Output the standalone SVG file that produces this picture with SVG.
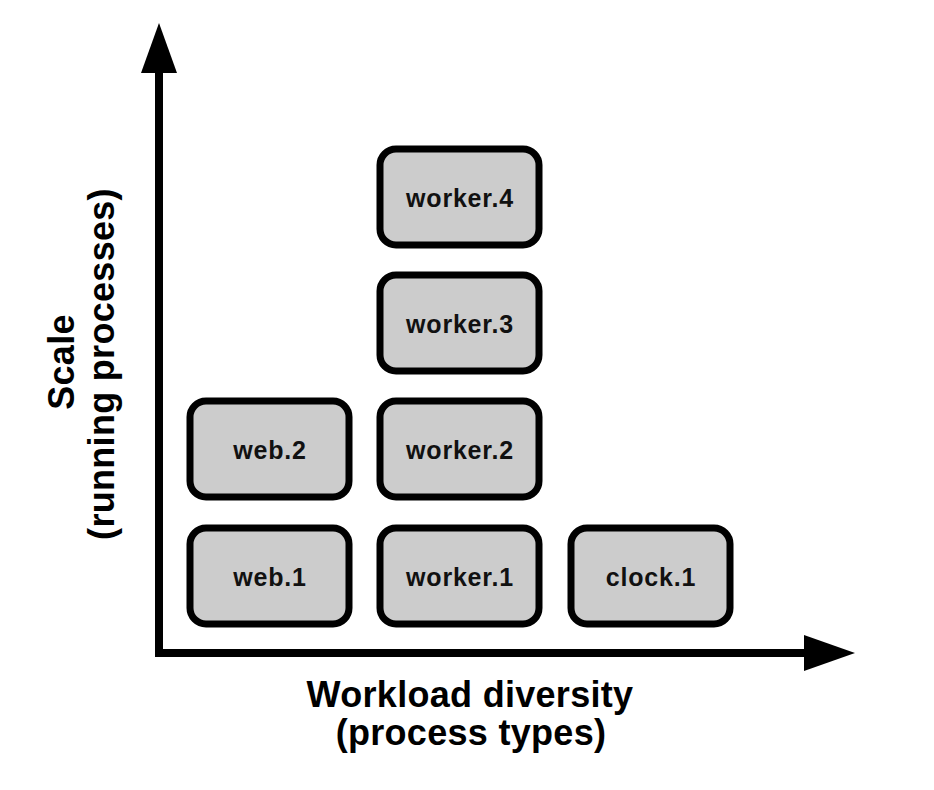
<svg xmlns="http://www.w3.org/2000/svg" width="934" height="790" viewBox="0 0 934 790">
<style>
.box{fill:#cccccc;stroke:#000;stroke-width:7}
.lbl{font-family:"Liberation Sans",Arial,sans-serif;font-weight:bold;font-size:25px;letter-spacing:0.8px;fill:#111;text-anchor:middle}
.axl{font-family:"Liberation Sans",Arial,sans-serif;font-weight:bold;font-size:36px;letter-spacing:0.3px;fill:#000;text-anchor:middle}
</style>
<rect width="934" height="790" fill="#fff"/>
<g id="connectors">
<path d="M159,72 V653 H806" fill="none" stroke="#000" stroke-width="8" stroke-linejoin="miter"/>
<polygon points="159,23 141,73 177,73" fill="#000"/>
<polygon points="855,653 804,635 804,671" fill="#000"/>
</g>
<g id="web1"><rect class="box" x="190" y="528" width="159" height="96" rx="16"/><text class="lbl" x="270" y="586">web.1</text></g>
<g id="web2"><rect class="box" x="190" y="401" width="159" height="96" rx="16"/><text class="lbl" x="270" y="459">web.2</text></g>
<g id="worker1"><rect class="box" x="380" y="528" width="159" height="96" rx="16"/><text class="lbl" x="460" y="586">worker.1</text></g>
<g id="worker2"><rect class="box" x="380" y="401" width="159" height="96" rx="16"/><text class="lbl" x="460" y="459">worker.2</text></g>
<g id="worker3"><rect class="box" x="380" y="275" width="159" height="96" rx="16"/><text class="lbl" x="460" y="333">worker.3</text></g>
<g id="worker4"><rect class="box" x="380" y="149" width="159" height="96" rx="16"/><text class="lbl" x="460" y="207">worker.4</text></g>
<g id="clock1"><rect class="box" x="571" y="528" width="159" height="96" rx="16"/><text class="lbl" x="651" y="586">clock.1</text></g>
<g id="xlabel"><text class="axl" x="470" y="707">Workload diversity</text><text class="axl" x="471" y="745">(process types)</text></g>
<g id="ylabel"><text class="axl" transform="translate(74,362) rotate(-90)">Scale</text><text class="axl" transform="translate(114,364) rotate(-90)">(running processes)</text></g>
</svg>
